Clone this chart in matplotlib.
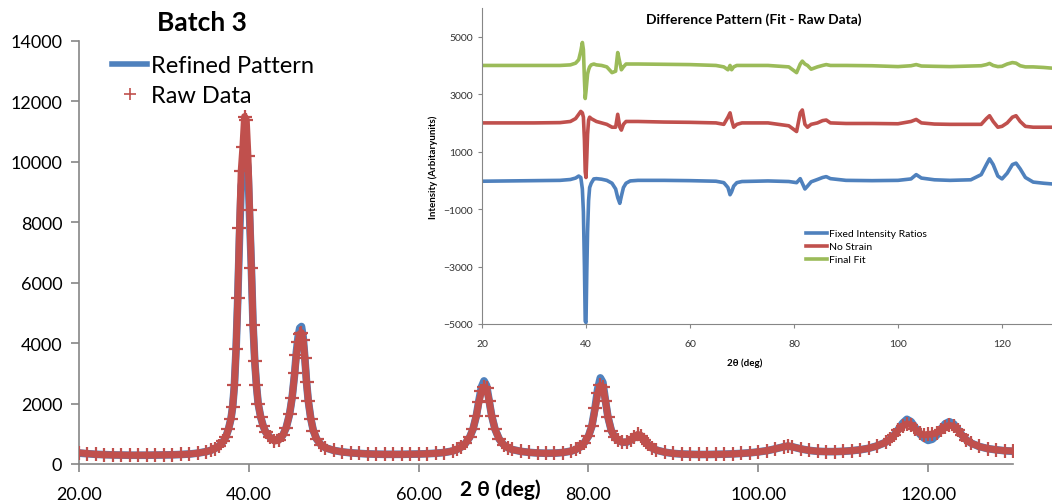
import numpy as np
import matplotlib.pyplot as plt
from matplotlib.ticker import FixedLocator, FormatStrFormatter
from matplotlib.lines import Line2D

# ---- main pattern (2theta in deg, intensity) ----
two_theta = [20, 21, 22, 23, 24, 25, 26, 27, 28, 29, 30, 31, 32, 33, 34, 35, 35.5, 36, 36.5, 37,
             37.3, 37.6, 37.9, 38.1, 38.3, 38.5, 38.7, 38.9, 39.1, 39.3, 39.5, 39.7, 39.9, 40.1, 40.3,
             40.5, 40.7, 40.9, 41.1, 41.4, 41.7, 42.0, 42.5, 43.0, 43.5, 44.0, 44.4, 44.8, 45.1, 45.4,
             45.6, 45.8, 46.0, 46.2, 46.4, 46.6, 46.8, 47.0, 47.3, 47.6, 48.0, 48.5, 49, 50, 51, 52,
             53, 54, 55, 56, 57, 58, 59, 60, 61, 62, 63, 64, 64.5, 65, 65.5, 66, 66.4, 66.8, 67.1,
             67.4, 67.7, 68.0, 68.3, 68.6, 69, 69.5, 70, 70.5, 71, 72, 73, 74, 75, 76, 77, 78, 78.5,
             79, 79.5, 80, 80.4, 80.8, 81.1, 81.4, 81.7, 82.0, 82.3, 82.7, 83.1, 83.5, 84, 84.5, 85,
             85.4, 85.8, 86.2, 86.6, 87, 87.5, 88, 89, 90, 91, 92, 93, 94, 95, 96, 97, 98, 99, 100,
             101, 102, 103, 103.5, 104, 105, 106, 107, 108, 109, 110, 111, 112, 113, 114, 115, 115.5,
             116, 116.5, 117, 117.5, 118, 118.5, 119, 119.5, 120, 120.5, 121, 121.5, 122, 122.5, 123,
             123.5, 124, 124.5, 125, 126, 127, 128, 129, 130]

refined = [360, 340, 320, 310, 300, 295, 290, 290, 290, 295, 300, 305, 315, 330, 360, 410, 450, 510, 600, 750,
           900, 1150, 1500, 1900, 2600, 3800, 5500, 7500, 9200, 9500, 9700, 10200, 9800, 8200, 6500,
           4600, 3400, 2600, 2000, 1550, 1250, 1050, 880, 780, 800, 950, 1200, 1650, 2200, 3000,
           3700, 4200, 4500, 4550, 4200, 3500, 2700, 2100, 1500, 1100, 820, 640, 540, 450, 400, 370,
           350, 335, 325, 320, 320, 320, 325, 330, 340, 355, 380, 430, 480, 560, 680, 880, 1150, 1600, 2100,
           2550, 2750, 2600, 2100, 1600, 1150, 820, 640, 540, 480, 420, 385, 365, 355, 360, 380, 430, 480,
           560, 700, 920, 1250, 1900, 2500, 2850, 2700, 2100, 1550, 1100, 880, 780, 720, 720, 790,
           880, 950, 920, 800, 650, 530, 460, 390, 350, 330, 320, 315, 315, 320, 325, 335, 350, 370, 400,
           440, 500, 570, 590, 570, 500, 450, 420, 410, 410, 420, 440, 470, 520, 600, 720, 820,
           960, 1150, 1350, 1480, 1400, 1200, 1000, 860, 780, 820, 950, 1150, 1330, 1400, 1330,
           1150, 950, 800, 700, 580, 510, 470, 440, 420]

raw = [370, 345, 320, 305, 300, 295, 290, 290, 292, 295, 300, 305, 315, 330, 360, 410, 450, 510, 600, 750,
       900, 1150, 1500, 1900, 2600, 3800, 5500, 7800, 9700, 10500, 11500, 11400, 10200, 8400, 6500,
       4600, 3400, 2600, 2000, 1550, 1250, 1050, 880, 760, 780, 950, 1200, 1650, 2200, 3000,
       3600, 4050, 4300, 4350, 4100, 3500, 2700, 2100, 1500, 1100, 820, 640, 540, 450, 400, 370,
       350, 335, 325, 320, 320, 320, 325, 330, 340, 355, 380, 430, 480, 560, 680, 880, 1150, 1600, 2050,
       2400, 2550, 2500, 2100, 1600, 1150, 820, 640, 540, 480, 420, 385, 365, 355, 360, 380, 430, 480,
       560, 700, 920, 1250, 1850, 2350, 2600, 2550, 2100, 1550, 1100, 880, 780, 720, 730, 800,
       900, 980, 940, 800, 650, 530, 460, 390, 350, 330, 320, 315, 315, 320, 325, 335, 350, 370, 400,
       440, 500, 570, 600, 570, 500, 450, 420, 410, 410, 420, 440, 470, 520, 600, 720, 820,
       950, 1120, 1250, 1330, 1300, 1150, 1020, 960, 980, 990, 1030, 1130, 1230, 1280, 1250,
       1120, 950, 800, 700, 580, 510, 470, 440, 430]

# ---- difference patterns (fit - raw), offset series ----
diff_x = [20, 25, 30, 35, 37, 38, 38.6, 39.0, 39.3, 39.5, 39.7, 39.85, 40.0, 40.15, 40.3, 40.5, 40.7,
          41.0, 41.5, 42, 43, 44, 45, 45.7, 46.1, 46.5, 46.8, 47.2, 47.7, 48.5, 50, 55, 60, 65, 66.5,
          67.3, 67.7, 68.0, 68.4, 69, 70, 75, 79, 80.5, 81.2, 81.6, 82.1, 82.6, 83.3, 84.5, 85.5, 86.2,
          87, 90, 95, 100, 102.5, 103.5, 104.5, 107, 110, 114, 116, 117, 117.6, 118.3, 119.2, 120, 121,
          122, 122.7, 123.5, 124.5, 126, 128, 130]

fixed_ratios = [-30, -20, -10, 0, 30, 80, 150, 100, -300, -1100, -3000, -4900, -4950, -3200, -1800, -700, -250,
                -100, 50, 60, 40, 0, -100, -300, -600, -800, -550, -250, -100, -20, 0, 0, -10, -30, -80,
                -250, -500, -400, -200, -80, -40, -20, -40, -80, 60, -100, -300, -200, -50, 30, 100, 130,
                60, 0, -10, 0, 50, 200, 80, 20, 0, 20, 200, 550, 750, 550, 150, 50, 250,
                550, 600, 400, 100, -60, -100, -130]

no_strain = [2000, 2000, 2000, 2010, 2050, 2150, 2300, 2400, 2350, 2200, 1400, 300, 100, 800, 1600, 2100, 2200,
             2150, 2100, 2050, 2000, 1950, 1850, 1850, 2300, 1850, 1750, 1950, 2050, 2050, 2050, 2030, 2020, 2000, 1950,
             2200, 2350, 2100, 1850, 1950, 2000, 2000, 1900, 1700, 2350, 2450, 1950, 1850, 1950, 2000, 2080, 2100,
             2000, 1980, 1980, 1970, 2050, 2120, 2000, 1960, 1950, 1950, 1950, 2150, 2250, 2050, 1850, 1880, 2000,
             2200, 2250, 2050, 1880, 1850, 1850, 1850]

final_fit = [4000, 4000, 4000, 4000, 4020, 4080, 4200, 4500, 4800, 4550, 3500, 2850, 3100, 3400, 3700, 3850, 3950,
             4020, 4050, 4020, 4000, 3950, 3750, 3800, 4450, 4100, 3850, 3950, 4050, 4050, 4050, 4040, 4030, 4000, 3950,
             3850, 4000, 3850, 3950, 4000, 4000, 4000, 3950, 3750, 4050, 4150, 4050, 4000, 3870, 3950, 4000, 4030,
             4000, 4000, 3990, 3960, 3990, 4030, 3980, 3970, 3960, 3980, 3990, 4030, 4070, 4000, 3960, 3970, 4050,
             4100, 4080, 3990, 3950, 3950, 3930, 3900]

BLUE = '#4F81BD'
RED = '#C0504D'
GREEN = '#9BBB59'
GRAY = '#868686'

plt.rcParams['font.family'] = ['Lato', 'DejaVu Sans']

fig = plt.figure(figsize=(10.52, 5.02), dpi=100)

# main chart
ax = fig.add_axes([79 / 1052, 1 - 465 / 502, 934 / 1052, 423 / 502])
ax.plot(two_theta, refined, color=BLUE, lw=5.5, solid_capstyle='round', zorder=2)
ax.plot(two_theta, raw, color=RED, lw=5, marker='+', ms=10, mew=1.6, zorder=3)
ax.set_xlim(20, 130)
ax.set_ylim(0, 14000)
ax.xaxis.set_major_locator(FixedLocator([20, 40, 60, 80, 100, 120]))
ax.xaxis.set_major_formatter(FormatStrFormatter('%.2f'))
ax.yaxis.set_major_locator(FixedLocator(np.arange(0, 14001, 2000)))
for s in ['top', 'right']:
    ax.spines[s].set_visible(False)
for s in ['left', 'bottom']:
    ax.spines[s].set_color(GRAY)
    ax.spines[s].set_linewidth(1.2)
ax.tick_params(axis='both', direction='out', length=6, width=1.2, color=GRAY, labelsize=13)
ax.tick_params(axis='x', pad=10)
ax.tick_params(axis='y', pad=6)

fig.text(202 / 1052, 1 - 23 / 502, 'Batch 3', fontsize=19, fontweight='bold', ha='center', va='center')
fig.text(500 / 1052, 1 - 490 / 502, '2 θ (deg)', fontsize=15, fontweight='bold', ha='center', va='center')

handles = [Line2D([], [], color=BLUE, lw=4),
           Line2D([], [], color=RED, lw=0, marker='+', ms=8, mew=1.2)]
ax.legend(handles, ['Refined Pattern', 'Raw Data'], loc='upper left',
          bbox_to_anchor=(112 / 1052, 1 - 56 / 502), bbox_transform=fig.transFigure,
          frameon=False, fontsize=17, handlelength=1.5, handletextpad=0.15,
          labelspacing=0.4, borderpad=0, borderaxespad=0)

# inset: difference pattern
axi = fig.add_axes([482 / 1052, 1 - 325 / 502, 572 / 1052, 316 / 502])
axi.patch.set_alpha(0)
axi.plot(diff_x, fixed_ratios, color=BLUE, lw=2.6, label='Fixed Intensity Ratios')
axi.plot(diff_x, no_strain, color=RED, lw=2.6, label='No Strain')
axi.plot(diff_x, final_fit, color=GREEN, lw=2.6, label='Final Fit')
axi.set_xlim(20, 130)
axi.set_ylim(-5000, 6000)
axi.xaxis.set_major_locator(FixedLocator([20, 40, 60, 80, 100, 120]))
axi.yaxis.set_major_locator(FixedLocator([-5000, -3000, -1000, 1000, 3000, 5000]))
for s in ['top', 'right']:
    axi.spines[s].set_visible(False)
for s in ['left', 'bottom']:
    axi.spines[s].set_color(GRAY)
axi.tick_params(axis='both', direction='out', length=3, color=GRAY, labelsize=7.5, labelcolor='#333333')
axi.tick_params(axis='x', pad=8)
axi.set_ylabel('Intensity (Arbitaryunits)', fontsize=7, fontweight='bold', labelpad=4)
axi.text(0.475, 0.965, 'Difference Pattern (Fit - Raw Data)', transform=axi.transAxes,
         fontsize=10, fontweight='bold', ha='center', va='center')
axi.text(0.46, -0.12, '2θ (deg)', transform=axi.transAxes,
         fontsize=7, fontweight='bold', ha='center', va='center')
axi.legend(loc='upper left', bbox_to_anchor=(806 / 1052, 1 - 230 / 502), bbox_transform=fig.transFigure,
           frameon=False, fontsize=7.5, handlelength=2.0, handletextpad=0.2,
           labelspacing=0.35, borderpad=0, borderaxespad=0)

fig.savefig('out.png', dpi=100)
